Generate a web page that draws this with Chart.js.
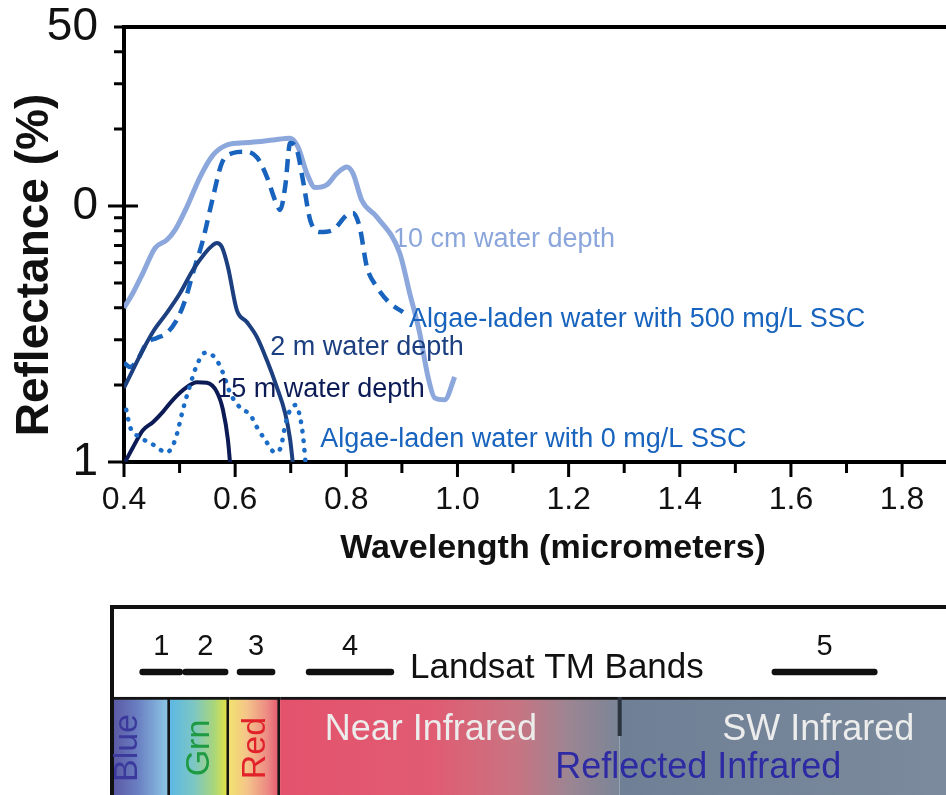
<!DOCTYPE html>
<html>
<head>
<meta charset="utf-8">
<script src="https://cdn.jsdelivr.net/npm/chart.js@4.4.1/dist/chart.umd.min.js"></script>
<style>
  html, body { margin: 0; padding: 0; background: #fff; }
  body { width: 946px; height: 795px; position: relative; overflow: hidden; }
  #spectra { position: absolute; left: 0; top: 0; }
  #bands { position: absolute; left: 0; top: 600px; }
</style>
</head>
<body>
<canvas id="spectra" width="946" height="590"></canvas>
<canvas id="bands" width="946" height="195"></canvas>
<script>
const FONT = "'Liberation Sans', Arial, Helvetica, sans-serif";

// reflectance curves: wavelength (micrometers) / reflectance (%)
const cm10X = [0.400, 0.416, 0.434, 0.456, 0.477, 0.492, 0.513, 0.537, 0.560, 0.585, 0.609, 0.639, 0.668, 0.699, 0.713, 0.729, 0.744, 0.765, 0.783, 0.801, 0.812, 0.828, 0.855, 0.896, 0.914, 0.932, 0.947, 0.959, 0.977, 0.995];
const cm10Y = [4.0, 4.57, 5.47, 6.85, 7.36, 8.06, 9.9, 13.0, 15.8, 17.3, 17.6, 17.8, 18.1, 18.4, 17.0, 13.4, 11.8, 12.1, 13.4, 14.2, 13.4, 10.5, 9.06, 6.55, 4.57, 3.19, 2.15, 1.78, 1.75, 2.15];

const ssc500X = [0.400, 0.411, 0.424, 0.441, 0.459, 0.477, 0.495, 0.510, 0.524, 0.542, 0.560, 0.576, 0.596, 0.614, 0.639, 0.657, 0.672, 0.681, 0.690, 0.699, 0.711, 0.722, 0.735, 0.753, 0.776, 0.801, 0.812, 0.824, 0.837, 0.855, 0.878, 0.902];
const ssc500Y = [2.44, 2.35, 2.50, 2.92, 3.05, 3.19, 3.59, 4.29, 5.47, 7.36, 10.8, 14.7, 16.1, 16.3, 15.5, 13.0, 10.5, 9.65, 11.9, 17.6, 16.6, 12.6, 8.81, 7.91, 8.06, 9.22, 9.39, 8.28, 5.78, 4.83, 4.18, 3.85];

const m2X = [0.400, 0.416, 0.434, 0.452, 0.477, 0.501, 0.524, 0.546, 0.560, 0.567, 0.576, 0.587, 0.603, 0.621, 0.639, 0.657, 0.675, 0.690, 0.699, 0.704];
const m2Y = [1.95, 2.29, 2.74, 3.22, 3.82, 4.57, 5.62, 6.55, 7.04, 7.17, 6.92, 5.78, 3.92, 3.52, 3.08, 2.50, 1.96, 1.55, 1.22, 0.98];

const m15X = [0.402, 0.416, 0.434, 0.452, 0.470, 0.488, 0.513, 0.531, 0.549, 0.567, 0.578, 0.587, 0.591];
const m15Y = [1.0, 1.14, 1.33, 1.43, 1.57, 1.75, 1.96, 2.05, 2.04, 1.88, 1.60, 1.22, 0.98];

const ssc0X = [0.404, 0.411, 0.429, 0.452, 0.477, 0.492, 0.506, 0.519, 0.531, 0.546, 0.564, 0.578, 0.591, 0.609, 0.627, 0.639, 0.654, 0.672, 0.682, 0.690, 0.699, 0.709, 0.717, 0.722, 0.727];
const ssc0Y = [1.60, 1.37, 1.25, 1.17, 1.09, 1.22, 1.60, 2.0, 2.39, 2.67, 2.55, 2.23, 1.86, 1.63, 1.53, 1.37, 1.22, 1.09, 1.14, 1.39, 1.60, 1.67, 1.49, 1.27, 0.98];

const seriesNames = ['Algae-laden water with 0 mg/L SSC', '15 m water depth', '2 m water depth', 'Algae-laden water with 500 mg/L SSC', '10 cm water depth'];

const xTickValues = [0.4, 0.5, 0.6, 0.7, 0.8, 0.9, 1.0, 1.1, 1.2, 1.3, 1.4, 1.5, 1.6, 1.7, 1.8];
const xTickLabels = ['0.4', '', '0.6', '', '0.8', '', '1.0', '', '1.2', '', '1.4', '', '1.6', '', '1.8'];
const yTickValues = [1, 2, 3, 4, 5, 6, 7, 8, 9, 10, 20, 30, 40, 50];
const yTickLabels = ['1', '', '', '', '', '', '', '', '', '0', '', '', '', '50'];

// Landsat TM band strip
const bandRows = ['Landsat TM Bands', 'Spectrum'];
const bandNames = ['1', '2', '3', '4', '5'];
const bandStart = [0.449, 0.525, 0.621, 0.743, 1.566];
const bandEnd = [0.525, 0.605, 0.688, 0.898, 1.752];
const regionNames = ['Blue', 'Grn', 'Red', 'Near Infrared', 'SW Infrared'];
const regionStart = [0.400, 0.5025, 0.607, 0.697, 1.297];
const regionEnd = [0.5025, 0.607, 0.697, 1.297, 1.8735];

// styling
const curveLabels = [
    { text: seriesNames[4], x: 0.884, y: 7.37, color: '#8ba6db' },
    { text: seriesNames[3], x: 0.913, y: 3.59, color: '#1763bd' },
    { text: seriesNames[2], x: 0.663, y: 2.81, color: '#1c3f80' },
    { text: seriesNames[1], x: 0.566, y: 1.91, color: '#0c1b55' },
    { text: seriesNames[0], x: 0.753, y: 1.22, color: '#1763bd' },
];
const regionStops = [
    [[0, '#5b57a3'], [0.45, '#6a80c2'], [1, '#8fcbe9']],
    [[0, '#5db8e3'], [0.4, '#7cc6c4'], [0.75, '#a9d67a'], [1, '#ece43c']],
    [[0, '#f2e26e'], [0.35, '#f4c48a'], [0.75, '#ec8a84'], [1, '#e4566c']],
    [[0, '#e4526c'], [0.45, '#e05c72'], [0.7, '#c87482'], [0.85, '#9c8592'], [1, '#7a8597']],
    [[0, '#6f7f95'], [1, '#7b8a9c']],
];
const regionBorders = [
    { top: 3, right: 3, bottom: 0, left: 0 },
    { top: 3, right: 3, bottom: 0, left: 0 },
    { top: 3, right: 3, bottom: 0, left: 0 },
    { top: 3, right: 0, bottom: 0, left: 0 },
    { top: 3, right: 0, bottom: 0, left: 0 },
];
const stripLabels = [
    { text: regionNames[3], x: 0.776, dy: -16, color: '#ececec', rotate: false },
    { text: regionNames[4], x: 1.478, dy: -16, color: '#ececec', rotate: false },
    { text: 'Reflected Infrared', x: 1.183, dy: 22, color: '#2e2aa3', rotate: false },
    { text: regionNames[0], x: 0.428, dy: 2, color: '#3b3a9c', rotate: true },
    { text: regionNames[1], x: 0.5555, dy: 2, color: '#1d9a42', rotate: true },
    { text: regionNames[2], x: 0.654, dy: 2, color: '#e2222a', rotate: true },
];

const pts = (xs, ys) => xs.map((x, i) => ({ x, y: ys[i] }));

const tickMarks = {
    id: 'tickMarks',
    afterDraw(chart) {
        const { ctx, chartArea, scales: { x, y } } = chart;
        ctx.save();
        ctx.strokeStyle = '#000';
        ctx.lineWidth = 3;
        ctx.beginPath();
        x.ticks.forEach((t, i) => {
            const px = x.getPixelForValue(t.value);
            ctx.moveTo(px, chartArea.bottom);
            ctx.lineTo(px, chartArea.bottom + (xTickLabels[i] ? 15 : 11));
        });
        y.ticks.forEach(t => {
            const py = y.getPixelForValue(t.value);
            const major = t.value === 1 || t.value === 10;
            ctx.moveTo(chartArea.left - (major ? 16 : 10), py);
            ctx.lineTo(chartArea.left + (t.value === 10 ? 14 : 0), py);
        });
        ctx.stroke();
        ctx.restore();
    }
};

const curveText = {
    id: 'curveText',
    afterDatasetsDraw(chart) {
        const { ctx, chartArea, scales: { x, y } } = chart;
        ctx.save();
        ctx.font = `27px ${FONT}`;
        ctx.textBaseline = 'middle';
        ctx.textAlign = 'left';
        curveLabels.forEach(l => {
            ctx.fillStyle = l.color;
            ctx.fillText(l.text, x.getPixelForValue(l.x), y.getPixelForValue(l.y));
        });
        ctx.fillStyle = '#111';
        ctx.textAlign = 'center';
        ctx.font = `bold 34px ${FONT}`;
        ctx.fillText('Wavelength (micrometers)', chartArea.left + 429, chartArea.bottom + 87);
        ctx.translate(35, chartArea.top + 238);
        ctx.rotate(-Math.PI / 2);
        ctx.font = `bold 46px ${FONT}`;
        ctx.fillText('Reflectance (%)', 0, 0);
        ctx.restore();
    }
};

// keep the plot box where the figure has it, whatever size the labels are
const noEdgePadding = s => { s.paddingTop = 0; s.paddingBottom = 0; s.paddingLeft = 0; s.paddingRight = 0; };

new Chart(document.getElementById('spectra'), {
    type: 'line',
    data: {
        datasets: [
            { label: seriesNames[0], data: pts(ssc0X, ssc0Y), borderColor: '#1b6cc6', borderWidth: 4.5, borderDash: [0.5, 9], borderCapStyle: 'round' },
            { label: seriesNames[1], data: pts(m15X, m15Y), borderColor: '#0c1b55', borderWidth: 4 },
            { label: seriesNames[2], data: pts(m2X, m2Y), borderColor: '#1c3f80', borderWidth: 4 },
            { label: seriesNames[3], data: pts(ssc500X, ssc500Y), borderColor: '#1763bd', borderWidth: 4.5, borderDash: [13, 8] },
            { label: seriesNames[4], data: pts(cm10X, cm10Y), borderColor: '#8ca7dc', borderWidth: 5 },
        ],
    },
    options: {
        responsive: false,
        animation: false,
        devicePixelRatio: 1,
        layout: { padding: { top: 27, right: 0, bottom: 0, left: 0 } },
        elements: {
            point: { radius: 0 },
            line: { cubicInterpolationMode: 'monotone', fill: false },
        },
        plugins: { legend: { display: false }, tooltip: { enabled: false } },
        scales: {
            x: {
                type: 'linear',
                min: 0.4, max: 1.879,
                afterBuildTicks: s => { s.ticks = xTickValues.map(v => ({ value: v })); },
                afterFit: s => { s.height = 590 - 462; noEdgePadding(s); },
                grid: { display: false, drawTicks: false },
                border: { display: true, color: '#000', width: 4 },
                ticks: {
                    autoSkip: false, maxRotation: 0, padding: 19, color: '#111',
                    font: { family: FONT, size: 32 },
                    callback: (v, i) => xTickLabels[i],
                },
            },
            xTop: {
                type: 'linear', position: 'top',
                min: 0.4, max: 1.879,
                afterFit: s => { s.height = 0; noEdgePadding(s); },
                grid: { display: false, drawTicks: false },
                border: { display: true, color: '#000', width: 4 },
                ticks: { display: false },
            },
            y: {
                type: 'logarithmic',
                min: 1, max: 50,
                afterBuildTicks: s => { s.ticks = yTickValues.map(v => ({ value: v })); },
                afterFit: s => { s.width = 124; noEdgePadding(s); },
                grid: { display: false, drawTicks: false },
                border: { display: true, color: '#000', width: 4 },
                ticks: {
                    autoSkip: false, padding: 26, color: '#111',
                    font: { family: FONT, size: 46 },
                    callback: (v, i) => yTickLabels[i],
                },
            },
        },
    },
    plugins: [curveText, tickMarks],
});

function regionFill(c) {
    const { chart, dataIndex } = c;
    const x = chart.scales.x;
    if (!chart.chartArea || !x) return regionStops[dataIndex][0][1];
    const g = chart.ctx.createLinearGradient(x.getPixelForValue(regionStart[dataIndex]), 0, x.getPixelForValue(regionEnd[dataIndex]), 0);
    regionStops[dataIndex].forEach(([o, col]) => g.addColorStop(o, col));
    return g;
}

const bandText = {
    id: 'bandText',
    afterDraw(chart) {
        const { ctx, chartArea, scales: { x, y } } = chart;
        const rowBand = y.getPixelForTick(0);
        const rowSpec = y.getPixelForTick(1);
        ctx.save();
        // box frame
        const frameTop = chartArea.top - 28;
        ctx.fillStyle = '#111';
        ctx.fillRect(chartArea.left - 2, frameTop - 2, chartArea.right - chartArea.left + 2, 4);
        ctx.fillRect(chartArea.left - 2, frameTop - 2, 4, chart.height - frameTop + 2);
        // notch between near and SW infrared
        ctx.fillStyle = '#2c3440';
        ctx.fillRect(x.getPixelForValue(regionStart[4]) - 2, rowSpec - 49, 4, 39);
        // band numbers and title
        ctx.fillStyle = '#111';
        ctx.textBaseline = 'middle';
        ctx.textAlign = 'center';
        ctx.font = `29px ${FONT}`;
        bandNames.forEach((n, i) => {
            ctx.fillText(n, x.getPixelForValue((bandStart[i] + bandEnd[i]) / 2), rowBand - 25);
        });
        ctx.textAlign = 'left';
        ctx.font = `35px ${FONT}`;
        ctx.fillText(bandRows[0], x.getPixelForValue(0.9265), rowBand - 4);
        // region names
        stripLabels.forEach(l => {
            ctx.fillStyle = l.color;
            if (l.rotate) {
                ctx.save();
                ctx.translate(x.getPixelForValue(l.x), rowSpec + l.dy);
                ctx.rotate(-Math.PI / 2);
                ctx.textAlign = 'center';
                ctx.font = `34px ${FONT}`;
                ctx.fillText(l.text, 0, 0);
                ctx.restore();
            } else {
                ctx.textAlign = 'left';
                ctx.font = `36px ${FONT}`;
                ctx.fillText(l.text, x.getPixelForValue(l.x), rowSpec + l.dy);
            }
        });
        ctx.restore();
    }
};

new Chart(document.getElementById('bands'), {
    type: 'bar',
    data: {
        labels: bandRows,
        datasets: [
            {
                label: bandRows[0],
                data: bandStart.map((s, i) => ({ x: [s, bandEnd[i]], y: bandRows[0] })),
                backgroundColor: '#101010',
                barThickness: 6,
                borderRadius: 3,
                borderSkipped: false,
                grouped: false,
            },
            {
                label: bandRows[1],
                data: regionStart.map((s, i) => ({ x: [s, regionEnd[i]], y: bandRows[1] })),
                backgroundColor: regionFill,
                borderColor: '#141414',
                borderWidth: regionBorders,
                borderSkipped: false,
                barThickness: 98,
                grouped: false,
                clip: false,
            },
        ],
    },
    options: {
        indexAxis: 'y',
        responsive: false,
        animation: false,
        devicePixelRatio: 1,
        layout: { padding: { left: 112, right: 0, top: 35, bottom: 12 } },
        plugins: { legend: { display: false }, tooltip: { enabled: false } },
        scales: {
            x: { type: 'linear', min: 0.4, max: 1.8735, display: false },
            y: { type: 'category', offset: true, display: false },
        },
    },
    plugins: [bandText],
});
</script>
</body>
</html>
